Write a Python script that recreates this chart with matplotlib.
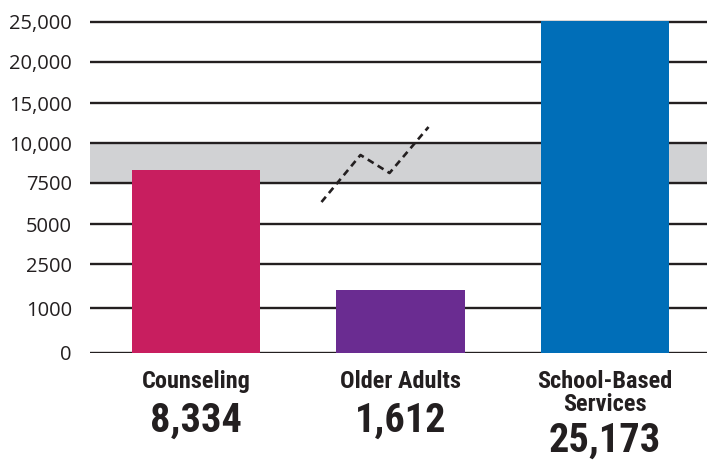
import numpy as np
import matplotlib
matplotlib.use("Agg")
import matplotlib.pyplot as plt

categories = ["Counseling", "Older Adults", "School-Based\nServices"]
values = [8334, 1612, 25173]
value_labels = ["8,334", "1,612", "25,173"]
colors = ["#c81e5f", "#6a2c91", "#006eb8"]

tick_values = [0, 1000, 2500, 5000, 7500, 10000, 15000, 20000, 25000]
tick_labels = ["0", "1000", "2500", "5000", "7500", "10,000", "15,000", "20,000", "25,000"]
break_band = (7500, 10000)

# uneven axis: every tick gets (roughly) the same spacing
axis_pos = [0, 45, 89, 129, 170, 210, 250, 291, 331]
vals_ext = [-1000] + tick_values + [35000]
pos_ext = [-45] + axis_pos + [412]


def forward(v):
    return np.interp(v, vals_ext, pos_ext)


def inverse(p):
    return np.interp(p, pos_ext, vals_ext)


TEXT = "#231f20"
plt.rcParams["font.family"] = ["Open Sans", "DejaVu Sans"]

fig = plt.figure(figsize=(7.07, 4.62), dpi=100)
ax = fig.add_axes([90 / 707, 109 / 462, 617 / 707, 353 / 462])
ax.set_yscale("function", functions=(forward, inverse))
ax.set_ylim(0, inverse(353))
ax.set_xlim(-0.52, 2.5)

ax.axhspan(break_band[0], break_band[1], color="#d1d2d4", zorder=0)
for v in tick_values:
    ax.axhline(v, color=TEXT, lw=1.7, zorder=1)

x = np.arange(len(categories))
ax.bar(x, values, width=0.627, color=colors, zorder=2)

# break marker (zig-zag)
ax.plot([0.613, 0.804, 0.946, 1.137], [6340, 9250, 8125, 12000],
        color=TEXT, lw=1.9, ls=(0, (2.6, 1.8)), zorder=3)

ax.set_yticks(tick_values)
ax.set_yticklabels(tick_labels, fontsize=14.5, color=TEXT)
ax.tick_params(axis="y", length=0, pad=13)
ax.set_xticks([])
for s in ax.spines.values():
    s.set_visible(False)

cond = dict(family=["Roboto Condensed", "Liberation Sans Narrow", "DejaVu Sans"],
            fontweight="bold", fontstretch="condensed", color=TEXT,
            ha="center", va="baseline")
for i, (cat, lab) in enumerate(zip(categories, value_labels)):
    lines = cat.split("\n")
    for j, line in enumerate(lines):
        ax.annotate(line, (i, 0), xytext=(0, -35 - 23 * j), textcoords="offset pixels",
                    fontsize=17.5, **cond)
    ax.annotate(lab, (i, 0), xytext=(0, -79 - 20 * (len(lines) - 1)), textcoords="offset pixels",
                fontsize=29, **cond)

fig.savefig("out.png", dpi=100)
